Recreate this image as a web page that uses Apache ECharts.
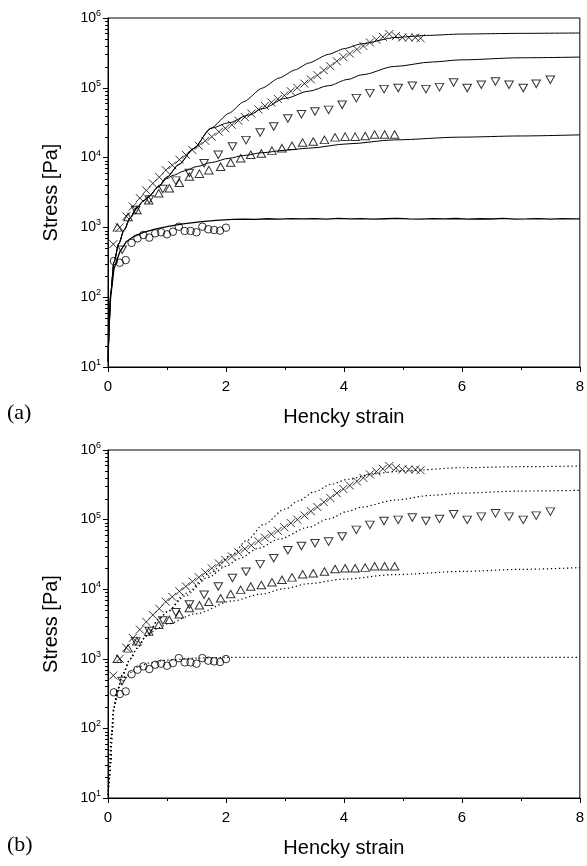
<!DOCTYPE html>
<html>
<head>
<meta charset="utf-8">
<script src="https://cdn.jsdelivr.net/npm/echarts@6/dist/echarts.min.js"></script>
<style>
html,body{margin:0;padding:0;background:#fff;}
#chart{width:587px;height:866px;}
</style>
</head>
<body>
<div id="chart"></div>
<script>
// ---------------- data ----------------
const xTickValues = [0, 2, 4, 6, 8];
const yDecadeValues = [10, 100, 1000, 10000, 100000, 1000000];
const yMinorTickValues = [20,30,40,50,60,70,80,90,200,300,400,500,600,700,800,900,
  2000,3000,4000,5000,6000,7000,8000,9000,20000,30000,40000,50000,60000,70000,80000,90000,
  200000,300000,400000,500000,600000,700000,800000,900000];

const circleStrain = [0.1,0.2,0.3,0.4,0.5,0.6,0.7,0.8,0.9,1.0,1.1,1.2,1.3,1.4,1.5,1.6,1.7,1.8,1.9,2.0];
const circleStress = [330,312,340,600,697,778,713,822,851,796,867,1023,888,888,851,1023,940,918,900,990];

const crossStrain = [0.09,0.20,0.31,0.42,0.54,0.65,0.76,0.87,0.98,1.09,1.21,1.32,1.43,1.54,1.65,1.76,1.88,1.99,2.10,2.21,2.32,2.43,2.55,2.66,2.77,2.88,2.99,3.10,3.21,3.33,3.44,3.55,3.66,3.77,3.88,3.99,4.10,4.22,4.33,4.44,4.55,4.66,4.77,4.88,4.99,5.10,5.21,5.30];
const crossStress = [575,1000,1445,1995,2630,3390,4265,5250,6610,7760,9330,10960,12880,14790,17380,19950,23440,26300,29510,33880,38020,42660,48980,54950,61660,69180,77620,89130,100000,114800,131800,151400,177800,204200,239900,275400,309000,354800,398100,446700,489800,537000,588800,549500,524800,524800,524800,512900];

const upStrain = [0.16,0.34,0.49,0.69,0.86,1.04,1.21,1.38,1.55,1.71,1.91,2.08,2.25,2.42,2.60,2.78,2.95,3.12,3.30,3.48,3.67,3.85,4.02,4.19,4.36,4.52,4.69,4.86];
const upStress = [1000,1413,1778,2455,3090,3631,4365,5370,5888,6607,7413,8511,9772,10960,11480,12590,13650,14790,16410,16980,17950,19500,19950,19950,20420,21380,21380,21380];

const downStrain = [0.24,0.47,0.70,0.93,1.15,1.38,1.63,1.87,2.11,2.34,2.58,2.81,3.05,3.28,3.51,3.74,3.97,4.21,4.44,4.68,4.92,5.16,5.39,5.62,5.86,6.09,6.33,6.57,6.80,7.04,7.26,7.50];
const downStress = [479,1778,2512,3548,4677,6026,8318,10960,14450,17780,22910,27860,36310,41690,45710,48310,57020,71120,83950,95720,99080,107200,95720,102300,119100,99080,110400,123000,110400,99080,114000,130300];

// panel (a) model curves (solid)
const circleModelAStrain = [0.003,0.01,0.02,0.045,0.1,0.2,0.31,0.43,0.6,0.8,1.0,1.27,1.55,1.83,2.11,2.3,2.5,2.7,2.9,3.1,3.3,3.5,3.7,3.9,4.1,4.3,4.5,4.7,4.9,5.1,5.3,5.5,5.7,5.9,6.1,6.3,6.5,6.7,6.9,7.1,7.3,7.5,7.7,7.9,8.0];
const circleModelAStress = [12,25.1,44.7,100,251,447,624,736,851,944,1023,1122,1202,1259,1303,1318,1305,1330,1312,1340,1322,1335,1318,1345,1326,1338,1312,1330,1348,1322,1310,1336,1325,1342,1316,1330,1320,1345,1318,1328,1340,1312,1332,1322,1326];

const crossModelAStrain = [0.003,0.01,0.02,0.045,0.1,0.185,0.27,0.38,0.49,0.6,0.7,0.85,1.0,1.2,1.45,1.745,2.054,2.3,2.615,2.9,3.177,3.4,3.74,4.0,4.3,4.86,5.4,5.98,7.0,8.0];
const crossModelAStress = [12,22.4,39.8,112,316,589,912,1380,1905,2399,2818,3802,5248,7943,13490,26300,43350,63100,99080,138000,181100,225900,302000,363100,426600,524800,562300,588800,602600,609500];

const downModelAStrain = [0.003,0.01,0.02,0.045,0.1,0.185,0.27,0.38,0.49,0.6,0.7,0.85,1.0,1.2,1.45,1.745,2.05,2.39,2.615,3.01,3.4,3.74,4.07,4.3,4.86,5.5,5.98,7.0,8.0];
const downModelAStress = [12,22.4,39.8,112,316,589,912,1380,1905,2399,2818,3802,5248,7943,13490,26300,31620,40740,50120,70790,89130,107200,131800,153500,202300,234400,251200,269200,275400];

const upModelAStrain = [0.003,0.01,0.02,0.045,0.1,0.185,0.27,0.38,0.49,0.6,0.7,0.85,1.0,1.1,1.3,1.5,1.75,2.05,2.3,2.615,3.0,3.4,4.07,4.86,5.98,7.0,8.0];
const upModelAStress = [12,22.4,39.8,112,316,589,912,1380,1905,2399,2818,3802,5012,5559,6457,7413,8511,9772,10720,11750,12740,13650,15740,17950,19630,20420,21180];

// panel (b) model curves (dotted)
const circleModelBStrain = [0.003,0.02,0.05,0.1,0.2,0.3,0.5,0.7,1.0,1.5,2.0,3.0,5.0,8.0];
const circleModelBStress = [11,25.1,79.4,200,398,562,759,871,955,1023,1047,1047,1047,1047];

const crossModelBStrain = [0.003,0.02,0.045,0.07,0.1,0.157,0.25,0.38,0.49,0.65,0.875,1.0,1.32,1.72,2.11,2.35,2.64,3.0,3.23,3.5,3.79,4.07,4.5,5.0,6.0,7.0,8.0];
const crossModelBStress = [11,17.8,31.6,89.1,200,355,603,1000,1413,2138,3802,4786,8710,16980,31620,50120,85110,141300,186200,251200,323600,380200,457100,501200,555900,575400,588800];

const downModelBStrain = [0.003,0.02,0.045,0.07,0.1,0.157,0.25,0.38,0.49,0.65,0.875,1.0,1.3,1.7,2.0,2.22,2.56,2.9,3.4,3.74,4.07,4.3,4.86,5.5,5.98,7.0,8.0];
const downModelBStress = [11,17.8,31.6,89.1,200,355,603,1000,1413,2138,3802,4677,7943,14790,21380,27540,38900,52480,77620,102300,131800,151400,190500,223900,239900,257000,263000];

const upModelBStrain = [0.003,0.02,0.045,0.07,0.1,0.157,0.25,0.38,0.49,0.65,0.875,1.0,1.5,2.1,2.6,3.0,3.4,4.0,4.86,6.0,7.0,8.0];
const upModelBStress = [11,17.8,31.6,89.1,200,355,603,1000,1413,2138,2818,3162,4467,6761,8511,10230,12020,13960,16220,17990,19280,20420];

// ---------------- chart ----------------
const FONT = 'Liberation Sans';
const zip = (xs, ys) => xs.map((x, i) => [x, ys[i]]);

function xAxisFor(gi) {
  return {
    type: 'value', gridIndex: gi, min: 0, max: 8, interval: 2,
    name: 'Hencky strain', nameLocation: 'middle', nameGap: 40,
    nameTextStyle: { fontFamily: FONT, fontSize: 20, color: '#000' },
    axisLine: { show: true, onZero: false, lineStyle: { color: '#000', width: 1 } },
    axisTick: { show: true, inside: false, length: 5, lineStyle: { color: '#000' } },
    minorTick: { show: true, splitNumber: 2, length: 3, lineStyle: { color: '#000' } },
    axisLabel: { fontFamily: FONT, fontSize: 15, color: '#000', margin: 12,
      formatter: v => (xTickValues.indexOf(v) >= 0 ? String(v) : '') },
    splitLine: { show: false }
  };
}
function yAxisFor(gi) {
  return {
    type: 'log', logBase: 10, gridIndex: gi, min: 10, max: 1000000,
    name: 'Stress [Pa]', nameLocation: 'middle', nameGap: 47,
    nameTextStyle: { fontFamily: FONT, fontSize: 20, color: '#000' },
    axisLine: { show: true, lineStyle: { color: '#000', width: 1 } },
    axisTick: { show: true, inside: false, length: 5, lineStyle: { color: '#000' } },
    axisLabel: {
      margin: 7,
      formatter: v => '{b|10}{s|' + Math.round(Math.log10(v)) + '}',
      rich: {
        b: { fontFamily: FONT, fontSize: 14, color: '#000', lineHeight: 18 },
        s: { fontFamily: FONT, fontSize: 9, color: '#000', lineHeight: 18, verticalAlign: 'top' }
      }
    },
    splitLine: { show: false }
  };
}

// minor logarithmic ticks, placed through the y scale of each grid
function minorTicks(xi, yi) {
  return {
    type: 'custom', xAxisIndex: xi, yAxisIndex: yi, clip: false, z: 10, silent: true,
    data: yMinorTickValues.map(v => [0, v]),
    renderItem: function (params, api) {
      const p = api.coord([api.value(0), api.value(1)]);
      const y = Math.round(p[1]) + 0.5;
      const x = Math.round(p[0]);
      return { type: 'line', shape: { x1: x - 3, y1: y, x2: x, y2: y },
        style: { stroke: '#000', lineWidth: 1 } };
    }
  };
}

const crossSymbol = 'path://M0,0L10,10M10,0L0,10';
function points(xi, yi, xs, ys, kind) {
  const s = {
    type: 'scatter', xAxisIndex: xi, yAxisIndex: yi, data: zip(xs, ys), z: 5,
    itemStyle: { color: 'transparent', borderColor: '#000', borderWidth: 1 },
    emphasis: { disabled: true }
  };
  if (kind === 'circle') { s.symbol = 'circle'; s.symbolSize = 7.5; }
  if (kind === 'cross') { s.symbol = crossSymbol; s.symbolSize = 8; s.itemStyle.color = 'none'; }
  if (kind === 'up') { s.symbol = 'triangle'; s.symbolSize = [8.5, 7.5]; }
  if (kind === 'down') { s.symbol = 'triangle'; s.symbolSize = [8.5, 7.5]; s.symbolRotate = 180; }
  return s;
}
function curve(xi, yi, xs, ys, dotted, width, smooth) {
  return {
    type: 'line', xAxisIndex: xi, yAxisIndex: yi, data: zip(xs, ys), z: 3,
    showSymbol: false, symbol: 'none', smooth: smooth, smoothMonotone: 'x',
    lineStyle: { color: '#000', width: width, type: dotted ? [1.3, 2.7] : 'solid' },
    emphasis: { disabled: true }
  };
}

const series = [
  // panel a
  curve(0, 0, circleModelAStrain, circleModelAStress, false, 1.3, false),
  curve(0, 0, crossModelAStrain, crossModelAStress, false, 1, 0.2),
  curve(0, 0, downModelAStrain, downModelAStress, false, 1, 0.3),
  curve(0, 0, upModelAStrain, upModelAStress, false, 1, 0.3),
  points(0, 0, circleStrain, circleStress, 'circle'),
  points(0, 0, crossStrain, crossStress, 'cross'),
  points(0, 0, upStrain, upStress, 'up'),
  points(0, 0, downStrain, downStress, 'down'),
  minorTicks(0, 0),
  // panel b
  curve(1, 1, circleModelBStrain, circleModelBStress, true, 1.2, 0.3),
  curve(1, 1, crossModelBStrain, crossModelBStress, true, 1.2, 0.3),
  curve(1, 1, downModelBStrain, downModelBStress, true, 1.2, 0.3),
  curve(1, 1, upModelBStrain, upModelBStress, true, 1.2, 0.3),
  points(1, 1, circleStrain, circleStress, 'circle'),
  points(1, 1, crossStrain, crossStress, 'cross'),
  points(1, 1, upStrain, upStress, 'up'),
  points(1, 1, downStrain, downStress, 'down'),
  minorTicks(1, 1)
];

const chart = echarts.init(document.getElementById('chart'), null, { renderer: 'canvas' });
chart.setOption({
  animation: false,
  backgroundColor: '#fff',
  grid: [
    { left: 108, top: 18, width: 475, height: 349, show: true, borderColor: '#000', borderWidth: 1, backgroundColor: 'transparent' },
    { left: 108, top: 450, width: 475, height: 348, show: true, borderColor: '#000', borderWidth: 1, backgroundColor: 'transparent' }
  ],
  xAxis: [xAxisFor(0), xAxisFor(1)],
  yAxis: [yAxisFor(0), yAxisFor(1)],
  graphic: [
    { type: 'text', left: 7, top: 402, style: { text: '(a)', font: '22px "Liberation Serif", serif', fill: '#000' } },
    { type: 'text', left: 7, top: 834, style: { text: '(b)', font: '22px "Liberation Serif", serif', fill: '#000' } }
  ],
  series: series
});
</script>
</body>
</html>
